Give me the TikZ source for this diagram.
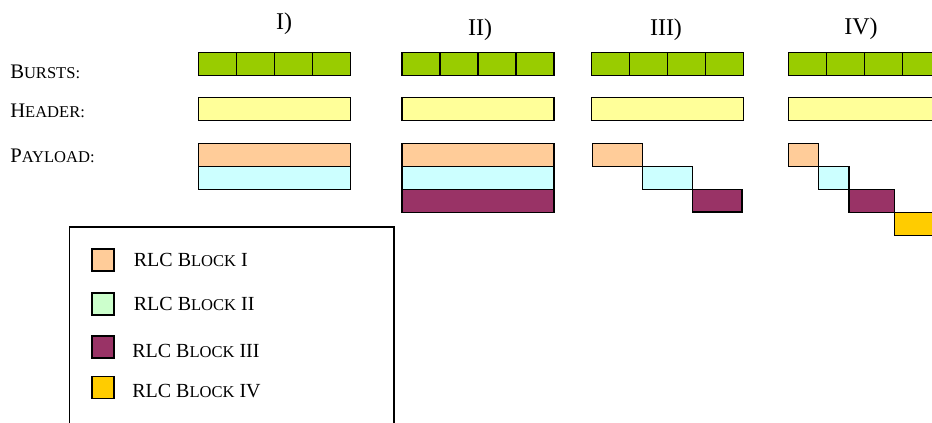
\documentclass[tikz,border=0pt]{standalone}
\usepackage{fontspec}
\setmainfont{Liberation Serif}
\usetikzlibrary{positioning}

\definecolor{burstgreen}{HTML}{99CC00}
\definecolor{headyellow}{HTML}{FFFF99}
\definecolor{blockI}{HTML}{FFCC99}
\definecolor{blockII}{HTML}{CCFFFF}
\definecolor{keyII}{HTML}{CCFFCC}
\definecolor{blockIII}{HTML}{993366}
\definecolor{blockIV}{HTML}{FFCC00}

% fake small caps: first letter full size, rest smaller
\newcommand{\fakesc}[2]{#1{\fontsize{12.4}{14}\selectfont #2}}

\begin{document}
\begin{tikzpicture}[x=0.75pt, y=-0.75pt,%
  rowlabel/.style={anchor=base west, inner sep=0pt, font=\fontsize{15.5}{18}\selectfont},%
  coltitle/.style={anchor=base, inner sep=0pt, font=\fontsize{18}{21}\selectfont},%
  cell/.style={draw=black, line width=1.35pt},%
  burst/.style={cell, fill=burstgreen},%
  header/.style={cell, fill=headyellow},%
  key/.style={rectangle, draw=black, line width=1.35pt, minimum size=16.5pt, inner sep=0pt},%
  keytext/.style={anchor=west, inner sep=0pt, font=\fontsize{15}{18}\selectfont}%
]
  \clip (0,0) rectangle (932,423);

  % row labels
  \node[rowlabel] (bursts) at (10,79) {\fakesc{B}{URSTS:}};
  \node[rowlabel] (header) at (10,118) {\fakesc{H}{EADER:}};
  \node[rowlabel] (payload) at (10,163) {\fakesc{P}{AYLOAD:}};

  % column titles
  \node[coltitle] (titleI) at (284,30) {I)};
  \node[coltitle] (titleII) at (480,36) {II)};
  \node[coltitle] (titleIII) at (666,36) {III)};
  \node[coltitle] (titleIV) at (861,35) {IV)};

  % bursts and header
  \foreach \x in {198.5,402,591.5,788.5} {
    \foreach \i in {0,...,3}
      \draw[burst] (\x+\i*38,52.5) rectangle ++(38,23);
    \draw[header] (\x,97.5) rectangle ++(152,23);
  }

  % payload I
  \draw[cell, fill=blockI] (198.5,143.5) rectangle ++(152,23);
  \draw[cell, fill=blockII] (198.5,166.5) rectangle ++(152,23);
  % payload II
  \draw[cell, fill=blockI] (402,143.5) rectangle ++(152,23);
  \draw[cell, fill=blockII] (402,166.5) rectangle ++(152,23);
  \draw[cell, fill=blockIII] (402,189.5) rectangle ++(152,23);
  % payload III
  \draw[cell, fill=blockI] (592.5,143.5) rectangle ++(50,23);
  \draw[cell, fill=blockII] (642.5,166.5) rectangle ++(50,23);
  \draw[cell, fill=blockIII] (692.5,189.5) rectangle ++(49.5,22.5);
  % payload IV
  \draw[cell, fill=blockI] (788.5,143.5) rectangle ++(30,23);
  \draw[cell, fill=blockII] (818.5,166.5) rectangle ++(30.5,23);
  \draw[cell, fill=blockIII] (849,189.5) rectangle ++(45.5,23);
  \draw[cell, fill=blockIV] (894.5,212.5) rectangle ++(46,23);

  % legend
  \draw[line width=1pt] (69.5,227) rectangle (394,440);
  \node[key, fill=blockI] (keyI) at (103.3,260.3) {};
  \node[key, fill=keyII] (keyII) at (103.3,303.7) {};
  \node[key, fill=blockIII] (keyIII) at (103.3,347) {};
  \node[key, fill=blockIV] (keyIV) at (103.3,387.5) {};
  \node[keytext, right=13.8pt of keyI] (textI) {RLC \fakesc{B}{LOCK} I};
  \node[keytext, right=13.8pt of keyII] (textII) {RLC \fakesc{B}{LOCK} II};
  \node[keytext, right=12.6pt of keyIII, yshift=-3pt] (textIII) {RLC \fakesc{B}{LOCK} III};
  \node[keytext, right=12.6pt of keyIV, yshift=-3pt] (textIV) {RLC \fakesc{B}{LOCK} IV};
\end{tikzpicture}
\end{document}
